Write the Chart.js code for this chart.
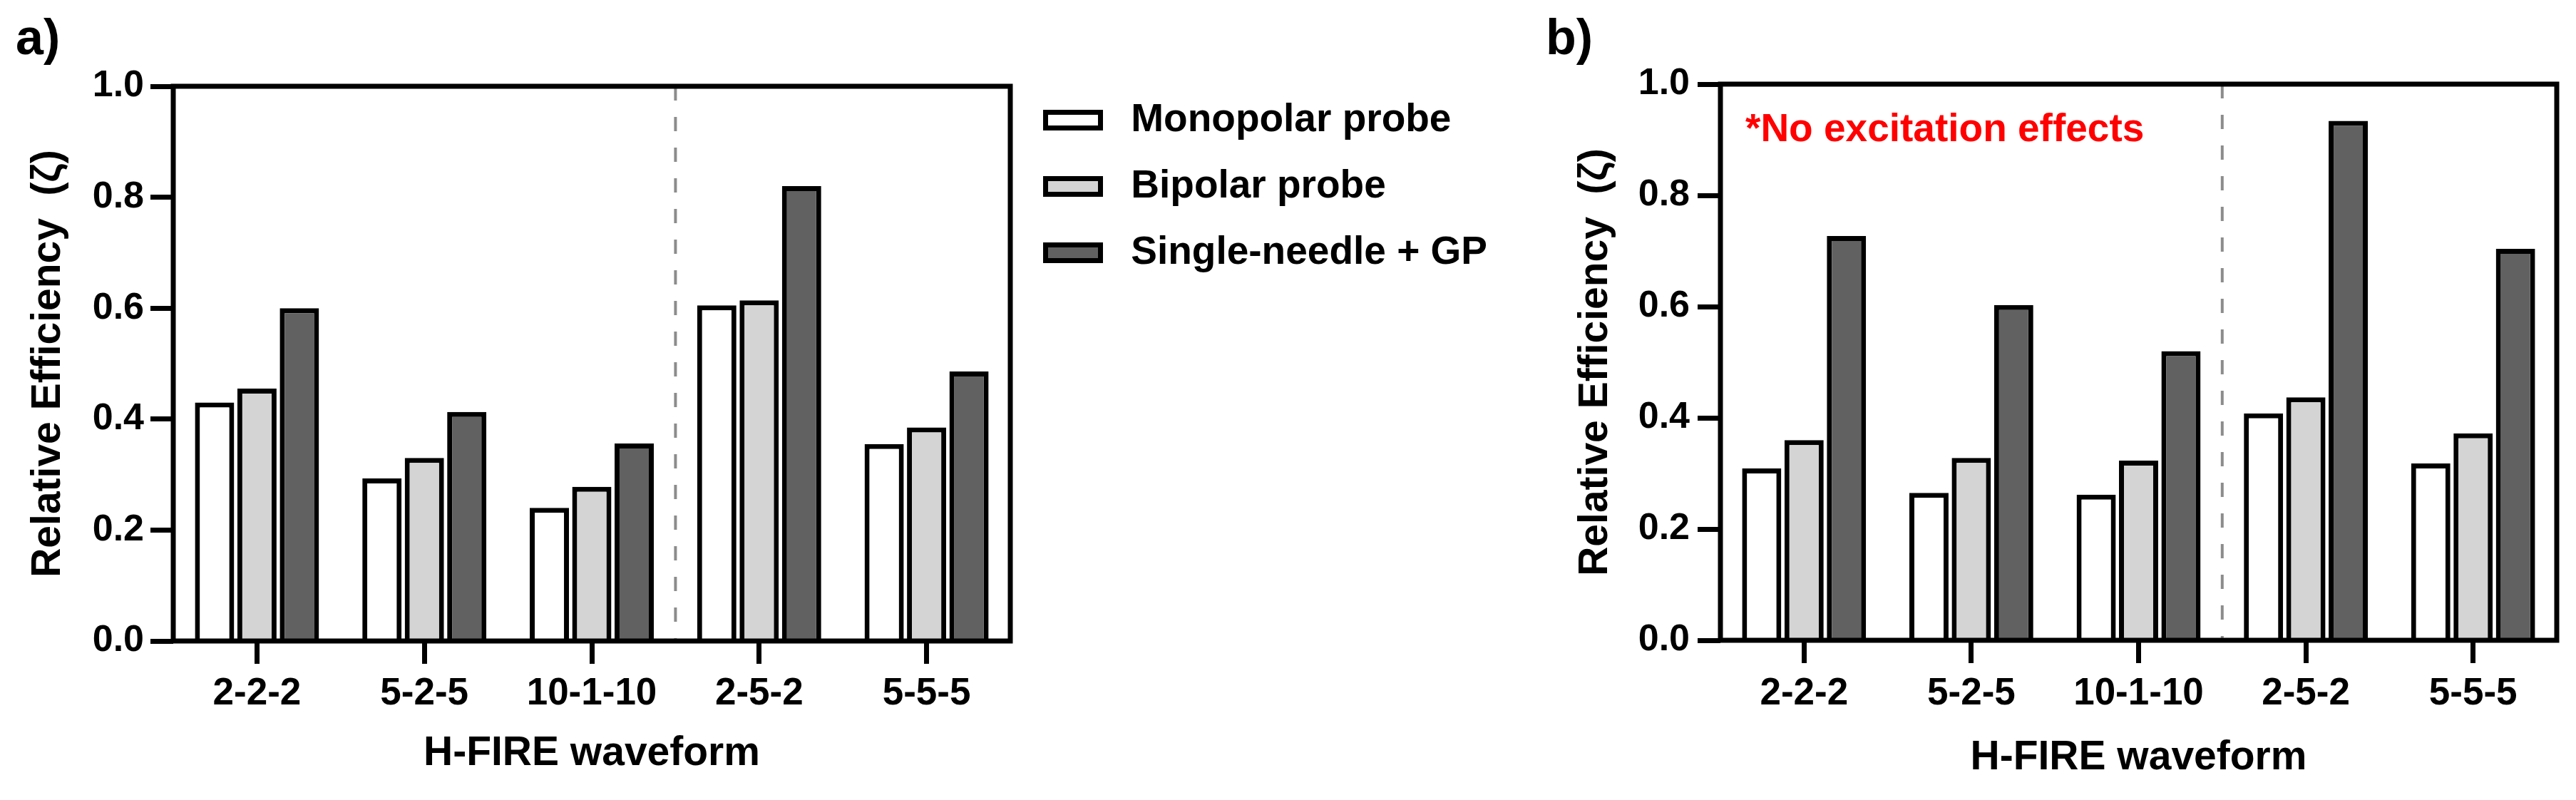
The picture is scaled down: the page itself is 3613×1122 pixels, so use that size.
<!DOCTYPE html>
<html>
<head>
<meta charset="utf-8">
<script src="https://cdn.jsdelivr.net/npm/chart.js@4.4.1/dist/chart.umd.min.js"></script>
<style>
  body { margin: 0; background: #fff; width: 3613px; height: 1122px; overflow: hidden; position: relative; }
  canvas { position: absolute; top: 0; }
  #chartA { left: 0; width: 2130px; height: 1122px; }
  #chartB { left: 2150px; width: 1463px; height: 1122px; }
</style>
</head>
<body>
<canvas id="chartA" width="2130" height="1122"></canvas>
<canvas id="chartB" width="1463" height="1122"></canvas>
<script>
// data
const waveforms = ['2-2-2', '5-2-5', '10-1-10', '2-5-2', '5-5-5'];
const probeNames = ['Monopolar probe', 'Bipolar probe', 'Single-needle + GP'];
const probeColors = ['#ffffff', '#d4d4d4', '#616161'];

// a) relative efficiency
const monoA = [0.430, 0.293, 0.240, 0.605, 0.355];
const bipoA = [0.455, 0.330, 0.278, 0.614, 0.385];
const singA = [0.600, 0.413, 0.356, 0.820, 0.486];

// b) relative efficiency, no excitation effects
const monoB = [0.309, 0.265, 0.262, 0.408, 0.318];
const bipoB = [0.360, 0.328, 0.323, 0.437, 0.372];
const singB = [0.727, 0.603, 0.520, 0.934, 0.704];

const yTicks = [0, 0.2, 0.4, 0.6, 0.8, 1.0];

Chart.defaults.font.family = "'Liberation Sans', Arial, sans-serif";
Chart.defaults.font.weight = 'bold';
Chart.defaults.color = '#000';

// dashed divider + black box around the plot + optional note
const panelDecor = {
    id: 'panelDecor',
    afterDatasetsDraw(chart, args, opts) {
        const ctx = chart.ctx;
        const a = chart.chartArea;
        const xd = chart.scales.x.getPixelForValue(opts.divider);
        ctx.save();
        ctx.strokeStyle = '#8c8c8c';
        ctx.lineWidth = 4;
        ctx.setLineDash([20, 23]);
        ctx.beginPath();
        ctx.moveTo(xd, a.top);
        ctx.lineTo(xd, a.bottom);
        ctx.stroke();

        ctx.setLineDash([]);
        ctx.strokeStyle = '#000';
        ctx.lineWidth = 7;
        ctx.strokeRect(a.left, a.top, a.right - a.left, a.bottom - a.top);

        if (opts.note) {
            ctx.fillStyle = '#ff0000';
            ctx.font = "bold 55px 'Liberation Sans', Arial, sans-serif";
            ctx.textAlign = 'left';
            ctx.textBaseline = 'alphabetic';
            ctx.fillText(opts.note, a.left + 35, a.top + 80);
        }
        ctx.restore();
    }
};

// move the legend block to where it sits in the figure
const legendPlace = {
    id: 'legendPlace',
    afterLayout(chart, args, opts) {
        if (!opts.left) return;
        const lg = chart.legend;
        lg.left = opts.left;
        lg.top = opts.top;
        lg.right = opts.left + opts.width;   // widen the clip box so the text is not cut
        lg.width = opts.width;
        lg.bottom = chart.height;
        lg.height = chart.height - opts.top;
    }
};

function makeDatasets(values) {
    return values.map((v, i) => ({
        label: probeNames[i],
        data: v,
        backgroundColor: probeColors[i],
        borderColor: '#000',
        borderWidth: 7,
        categoryPercentage: 0.76,
        barPercentage: 0.925
    }));
}

function makeConfig(p) {
    return {
        type: 'bar',
        data: { labels: waveforms, datasets: makeDatasets(p.values) },
        plugins: [panelDecor, legendPlace],
        options: {
            responsive: false,
            animation: false,
            devicePixelRatio: 1,
            layout: { padding: { left: p.padLeft, right: p.padRight, top: 0, bottom: 0 } },
            scales: {
                x: {
                    offset: true,
                    border: { display: false },
                    grid: { offset: false, drawOnChartArea: false, tickLength: 32, tickWidth: 7, color: '#000' },
                    ticks: { font: { size: 53, weight: 'bold' }, padding: p.xTickPad, maxRotation: 0, color: '#000' },
                    title: {
                        display: true,
                        text: 'H-FIRE waveform',
                        font: { size: 57, weight: 'bold' },
                        padding: { top: 0, bottom: p.xTitlePad },
                        color: '#000'
                    },
                    afterFit(scale) { scale.height = p.xHeight; }
                },
                y: {
                    min: 0,
                    max: 1,
                    border: { display: false },
                    grid: { drawOnChartArea: false, tickLength: 32, tickWidth: 7, color: '#000' },
                    afterBuildTicks(scale) { scale.ticks = yTicks.map(v => ({ value: v })); },
                    ticks: {
                        font: { size: 52, weight: 'bold' },
                        padding: p.yTickPad,
                        color: '#000',
                        callback: v => v.toFixed(1)
                    },
                    title: {
                        display: true,
                        text: 'Relative Efficiency  (\u03b6)',
                        font: { size: 57, weight: 'bold' },
                        padding: { top: p.yTitlePad, bottom: 0 },
                        color: '#000'
                    },
                    afterFit(scale) { scale.width = p.yWidth; }
                }
            },
            plugins: {
                title: {
                    display: true,
                    text: p.tag,
                    align: 'start',
                    font: { size: 70, weight: 'bold' },
                    padding: { top: 15, bottom: p.tagPadBottom },
                    color: '#000'
                },
                legend: {
                    display: p.legend,
                    position: 'right',
                    align: 'start',
                    maxWidth: 480,
                    labels: {
                        boxWidth: 77,
                        boxHeight: 22,
                        padding: 38,
                        color: '#000',
                        font: { size: 55, weight: 'bold' },
                        generateLabels(chart) {
                            const items = Chart.defaults.plugins.legend.labels.generateLabels(chart);
                            items.forEach(it => { it.text = ' ' + it.text; });
                            return items;
                        }
                    }
                },
                tooltip: { enabled: false },
                panelDecor: { divider: 2.5, note: p.note },
                legendPlace: p.legend ? { left: 1428.5, top: 103, width: 700 } : {}
            }
        }
    };
}

const chartA = new Chart(document.getElementById('chartA'), makeConfig({
    values: [monoA, bipoA, singA],
    tag: 'a)',
    tagPadBottom: 22,
    padLeft: 22,
    padRight: 233,
    yWidth: 221,
    yTitlePad: 12,
    yTickPad: 9,
    xHeight: 223,
    xTickPad: 11,
    xTitlePad: 31,
    legend: true,
    note: null
}));

const chartB = new Chart(document.getElementById('chartB'), makeConfig({
    values: [monoB, bipoB, singB],
    tag: 'b)',
    tagPadBottom: 19,
    padLeft: 18,
    padRight: 27,
    yWidth: 245,
    yTitlePad: 36,
    yTickPad: 11,
    xHeight: 224,
    xTickPad: 12,
    xTitlePad: 25,
    legend: false,
    note: '*No excitation effects'
}));
</script>
</body>
</html>
